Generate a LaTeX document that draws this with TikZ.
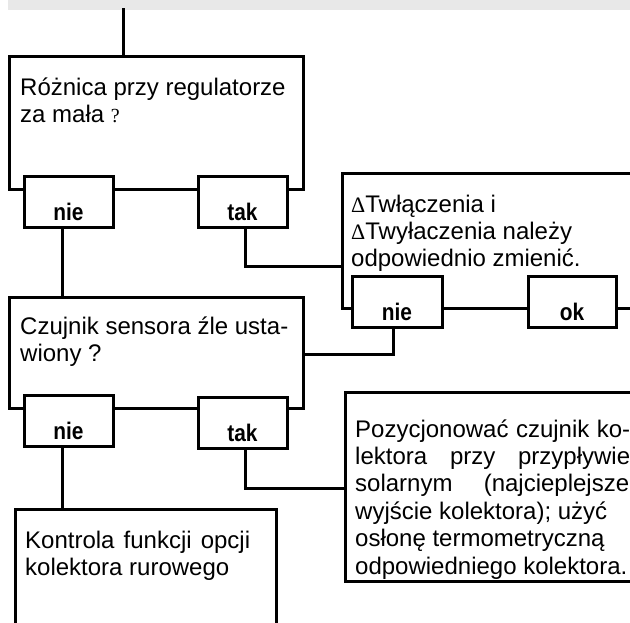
\documentclass[tikz,border=0pt]{standalone}
\usepackage{fontspec}
\usepackage{graphicx}
\setmainfont{Liberation Sans}
\newfontfamily\symfont{Liberation Serif}
\usetikzlibrary{calc}
\newcommand\bodysize{\fontsize{24}{27.4}\selectfont}
\newcommand\dT{{\symfont\fontsize{22}{27.4}\selectfont Δ}T}
% narrow bold caption for the answer boxes
\newcommand\narrowbold[1]{\scalebox{0.87}[1]{#1}}
\begin{document}
\begin{tikzpicture}[x=1pt,y=-1pt,
  frame/.style={draw, line width=3pt, fill=white, inner sep=0pt},
  answer/.style={frame, minimum height=51pt, text height=39pt, text depth=2pt,
    font=\fontsize{24}{26}\selectfont\bfseries},
  wire/.style={line width=3pt},
  copy/.style={anchor=base west, inner sep=0pt, font=\bodysize}]
\useasboundingbox (0,0) rectangle (630,622);
\clip (0,0) rectangle (630,622);

% header strip
\fill[black!9] (8,0) rectangle (630,10);
\coordinate (entry) at (123,8);

% question 1
\node[frame, minimum width=294pt, minimum height=133pt] (q1) at (156,122.5) {};
\node[answer, minimum width=89pt] (n1) at (68.5,202) {\narrowbold{nie}};
\node[answer, minimum width=89pt] (t1) at (242.5,202) {\narrowbold{tak}};
\node[copy] (x1) at (20,95) {\parbox[t]{290pt}{\raggedright
  Różnica przy regulatorze\\za mała {\symfont\fontsize{20}{27.4}\selectfont ?}}};

% hint: adjust switching differences
\node[frame, minimum width=358pt, minimum height=135pt] (r1) at (521,240.5) {};
\node[answer, minimum width=90pt] (n3) at (397,302) {\narrowbold{nie}};
\node[answer, minimum width=88pt] (ok) at (572,302) {\narrowbold{ok}};
\node[copy] (x3) at (351,212) {\parbox[t]{290pt}{\raggedright
  \dT włączenia i\\\dT wyłaczenia należy\\odpowiednio zmienić.}};
\coordinate (okout) at (640,308);

% question 2
\node[frame, minimum width=294pt, minimum height=111pt] (q2) at (156,352.5) {};
\node[answer, minimum width=89pt] (n2) at (68.5,420.5) {\narrowbold{nie}};
\node[answer, minimum width=89pt] (t2) at (242.5,422.5) {\narrowbold{tak}};
\node[copy] (x2) at (20,334.3) {\parbox[t]{290pt}{\raggedright
  Czujnik sensora źle usta-\\wiony ?}};

% result boxes
\node[frame, minimum width=261pt, minimum height=191pt] (q4) at (145.5,604.5) {};
\node[copy] (x4) at (25,548.3) {\parbox[t]{260pt}{\raggedright
  \makebox[225pt][s]{Kontrola funkcji opcji}\\kolektora rurowego}};

\node[frame, minimum width=355pt, minimum height=189pt] (r2) at (522.5,486.5) {};
\node[copy] (x5) at (355,437) {\parbox[t]{300pt}{\raggedright
  \makebox[275pt][s]{Pozycjonować czujnik ko-}\\
  \makebox[275pt][s]{lektora przy przypływie}\\
  \makebox[274pt][s]{solarnym (najcieplejsze}\\
  wyjście kolektora); użyć\\
  osłonę termometryczną\\
  odpowiedniego kolektora.}};

% connectors
\coordinate (k1) at (0,266);
\coordinate (k2) at (0,354);
\coordinate (k3) at (0,488);
\draw[wire] (entry) -- (entry |- q1.north);
\draw[wire] ([xshift=-6.5pt]n1.south) -- ([xshift=-6.5pt]n1.south |- q2.north);
\draw[wire] ([xshift=2.5pt]t1.south) |- (r1.west |- k1);
\draw[wire] ([xshift=-4pt]n3.south) |- (q2.east |- k2);
\draw[wire] (ok.east |- okout) -- (okout);
\draw[wire] ([xshift=-6.5pt]n2.south) -- ([xshift=-6.5pt]n2.south |- q4.north);
\draw[wire] ([xshift=2.5pt]t2.south) |- (r2.west |- k3);
\end{tikzpicture}
\end{document}
